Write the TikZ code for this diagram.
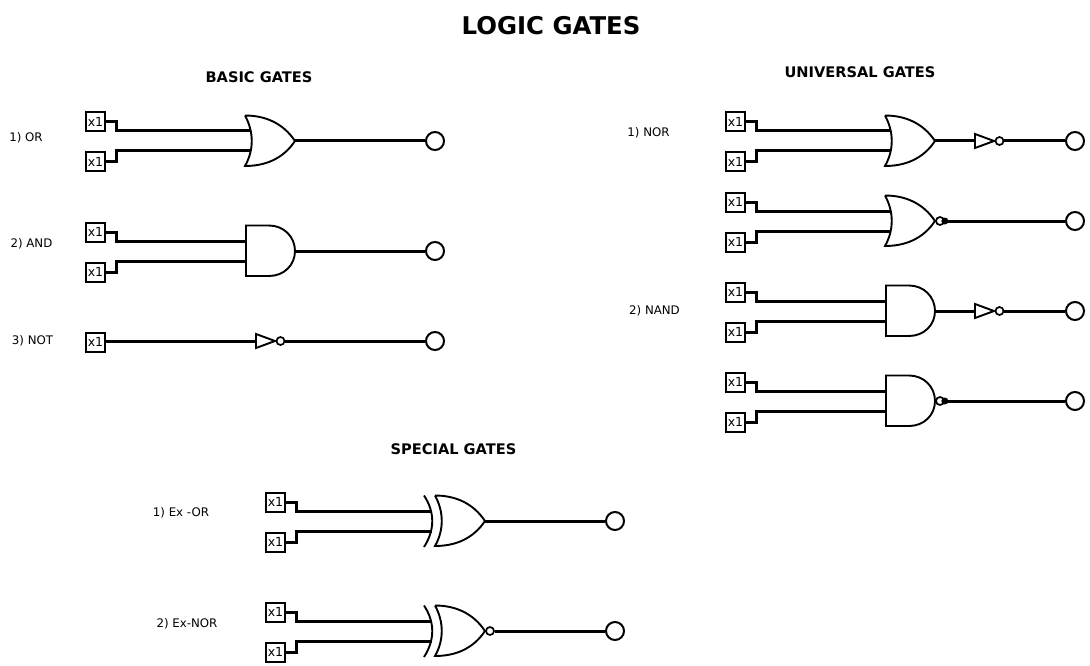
\documentclass[tikz,border=0pt]{standalone}
\usepackage{fontspec}
\setmainfont{DejaVu Sans}
\tikzset{
  wire/.style={line width=3pt},
  jog/.style={to path={(\tikztostart) -- ++(10.5,0) |- (\tikztotarget)}},
  inbox/.style={draw,line width=2pt,fill=white,minimum size=19pt,inner sep=0pt,font=\fontsize{12.5pt}{13pt}\selectfont},
  outpin/.style={draw,circle,line width=2pt,minimum size=18pt,inner sep=0pt},
  bubble/.style={draw,circle,line width=1.7pt,fill=white,minimum size=8pt,inner sep=0pt},
  lbl/.style={font=\fontsize{11.8pt}{13pt}\selectfont},
  head/.style={font=\fontsize{14.6pt}{17pt}\selectfont\bfseries},
  gateline/.style={line width=1.9pt,line join=miter},
  pics/orgate/.style={code={
    \draw[gateline,fill=white] (0,-25.5) .. controls (20,-25.5) and (38,-18) .. (50,0)
      .. controls (38,18) and (20,25) .. (0,25) .. controls (9,9) and (9,-9) .. (0,-25.5);
    \coordinate (-in1) at (5,-10);
    \coordinate (-in2) at (5,10);
    \coordinate (-out) at (50,0);
  }},
  pics/andgate/.style={code={
    \draw[gateline,fill=white] (1,-25.5) -- (24,-25.5) .. controls (39,-25.5) and (50,-14) .. (50,0)
      .. controls (50,14) and (39,25) .. (24,25) -- (1,25) -- cycle;
    \coordinate (-in1) at (1,-10);
    \coordinate (-in2) at (1,10);
    \coordinate (-out) at (50,0);
  }},
  pics/xorgate/.style={code={
    \draw[gateline] (-11,-25.5) .. controls (0,-9) and (0,9) .. (-11,26);
    \draw[gateline,fill=white] (0,-25.5) .. controls (20,-25.5) and (38,-18) .. (50,0)
      .. controls (38,18) and (20,25) .. (0,25) .. controls (9,9) and (9,-9) .. (0,-25.5);
    \coordinate (-in1) at (-3,-10);
    \coordinate (-in2) at (-3,10);
    \coordinate (-out) at (50,0);
  }},
  pics/notgate/.style={code={
    \draw[gateline,fill=white] (0,-7) -- (19,0) -- (0,7) -- cycle;
    \coordinate (-in) at (0,0);
    \coordinate (-out) at (29,0);
    \node[bubble] (-dot) at (24.5,0) {};
  }}
}
\begin{document}
\begin{tikzpicture}[x=1pt,y=-1pt]
  \useasboundingbox (0,0) rectangle (1090,666);
  \node[font=\fontsize{24.4pt}{28pt}\selectfont\bfseries] (title) at (551,25.5) {LOGIC GATES};
  \node[head] (basic) at (259,77) {BASIC GATES};
  \node[head] (universal) at (860,72) {UNIVERSAL GATES};
  \node[head] (special) at (453.5,449) {SPECIAL GATES};

  \node[lbl] (lor) at (26,138) {1) OR};
  \node[lbl] (land) at (31.5,244) {2) AND};
  \node[lbl] (lnot) at (32.5,341) {3) NOT};
  \node[lbl] (lnor) at (648.5,133) {1) NOR};
  \node[lbl] (lnand) at (654.5,311) {2) NAND};
  \node[lbl] (lxor) at (181,513) {1) Ex -OR};
  \node[lbl] (lxnor) at (187,624) {2) Ex-NOR};

  % basic
  \node[inbox] (ora) at (95.5,122) {x1};
  \node[inbox] (orb) at (95.5,162) {x1};
  \node[outpin] (oro) at (435,141) {};
  \pic (gor) at (245,141) {orgate};
  \draw[wire] (ora.east) to[jog] (gor-in1);
  \draw[wire] (orb.east) to[jog] (gor-in2);
  \draw[wire] (gor-out) -- (oro);

  \node[inbox] (anda) at (95.5,232) {x1};
  \node[inbox] (andb) at (95.5,272) {x1};
  \node[outpin] (ando) at (435,251) {};
  \pic (gand) at (245,251) {andgate};
  \draw[wire] (anda.east) to[jog] (gand-in1);
  \draw[wire] (andb.east) to[jog] (gand-in2);
  \draw[wire] (gand-out) -- (ando);

  \node[inbox] (nota) at (95.5,342) {x1};
  \node[outpin] (noto) at (435,341) {};
  \pic (gnot) at (256,341) {notgate};
  \draw[wire] (nota.east |- gnot-in) -- (gnot-in);
  \draw[wire] (gnot-out) -- (noto);

  % universal
  \node[inbox] (nora) at (735.5,122) {x1};
  \node[inbox] (norb) at (735.5,162) {x1};
  \node[outpin] (noro) at (1075,141) {};
  \pic (gnor) at (885,141) {orgate};
  \pic (nnor) at (975,141) {notgate};
  \draw[wire] (nora.east) to[jog] (gnor-in1);
  \draw[wire] (norb.east) to[jog] (gnor-in2);
  \draw[wire] (gnor-out) -- (nnor-in);
  \draw[wire] (nnor-out) -- (noro);

  \node[inbox] (norc) at (735.5,202) {x1};
  \node[inbox] (nord) at (735.5,242) {x1};
  \node[outpin] (norp) at (1075,221) {};
  \pic (hnor) at (885,221) {orgate};
  \node[bubble] (hnordot) at (940,221) {};
  \draw[wire] (norc.east) to[jog] (hnor-in1);
  \draw[wire] (nord.east) to[jog] (hnor-in2);
  \draw[wire] (hnordot.east) -- (norp);
  \fill (hnordot.east) circle (3.5);

  \node[inbox] (nanda) at (735.5,292) {x1};
  \node[inbox] (nandb) at (735.5,332) {x1};
  \node[outpin] (nando) at (1075,311) {};
  \pic (gnand) at (885,311) {andgate};
  \pic (nnand) at (975,311) {notgate};
  \draw[wire] (nanda.east) to[jog] (gnand-in1);
  \draw[wire] (nandb.east) to[jog] (gnand-in2);
  \draw[wire] (gnand-out) -- (nnand-in);
  \draw[wire] (nnand-out) -- (nando);

  \node[inbox] (nandc) at (735.5,382) {x1};
  \node[inbox] (nandd) at (735.5,422) {x1};
  \node[outpin] (nandp) at (1075,401) {};
  \pic (hnand) at (885,401) {andgate};
  \node[bubble] (hnanddot) at (940,401) {};
  \draw[wire] (nandc.east) to[jog] (hnand-in1);
  \draw[wire] (nandd.east) to[jog] (hnand-in2);
  \draw[wire] (hnanddot.east) -- (nandp);
  \fill (hnanddot.east) circle (3.5);

  % special
  \node[inbox] (xora) at (275.5,502) {x1};
  \node[inbox] (xorb) at (275.5,542) {x1};
  \node[outpin] (xoro) at (615,521) {};
  \pic (gxor) at (435,521) {xorgate};
  \draw[wire] (xora.east) to[jog] (gxor-in1);
  \draw[wire] (xorb.east) to[jog] (gxor-in2);
  \draw[wire] (gxor-out) -- (xoro);

  \node[inbox] (xnora) at (275.5,612) {x1};
  \node[inbox] (xnorb) at (275.5,652) {x1};
  \node[outpin] (xnoro) at (615,631) {};
  \pic (gxnor) at (435,631) {xorgate};
  \node[bubble] (xnordot) at (490,631) {};
  \draw[wire] (xnora.east) to[jog] (gxnor-in1);
  \draw[wire] (xnorb.east) to[jog] (gxnor-in2);
  \draw[wire] (xnordot) -- (xnoro);
\end{tikzpicture}
\end{document}
